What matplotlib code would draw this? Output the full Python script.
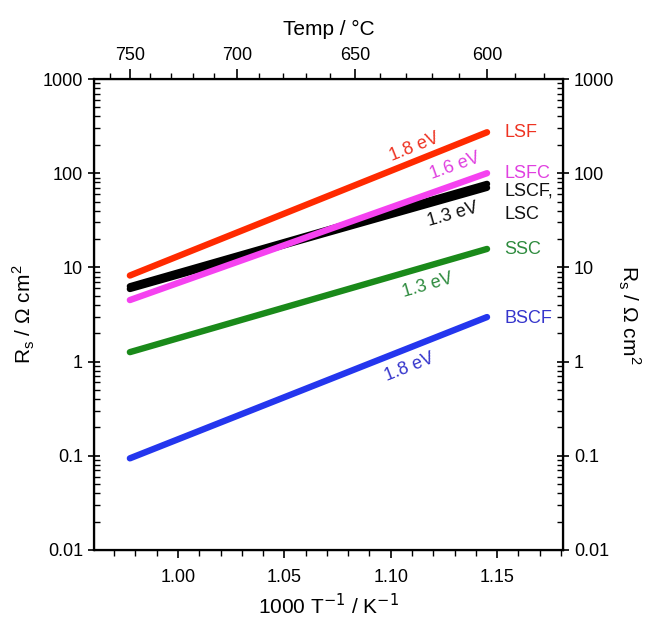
import numpy as np
import matplotlib
matplotlib.use("Agg")
import matplotlib.pyplot as plt
from matplotlib.ticker import FixedLocator, FuncFormatter, LogLocator, MultipleLocator, NullFormatter

plt.rcParams['font.family'] = ['Liberation Sans', 'DejaVu Sans']

# Data: end points (750 °C and 600 °C) of the Arrhenius lines
temps_end = [750, 600]                       # °C
materials = ['LSF', 'LSFC', 'LSCF', 'LSC', 'SSC', 'BSCF']
rs_750 = [8.2, 4.5, 5.9, 6.3, 1.26, 0.094]   # Ω cm² at 750 °C
rs_600 = [272, 100, 70, 77, 15.7, 2.97]      # Ω cm² at 600 °C
line_colors = ['#ff2a00', '#f542f0', '#000000', '#000000', '#1a8a1a', '#2436ee']
draw_order = [0, 2, 3, 1, 4, 5]

name_labels = ['LSF', 'LSFC', 'LSCF,\nLSC', 'SSC', 'BSCF']
name_colors = ['#ee3322', '#e040e0', '#111111', '#2e8b3e', '#3535cc']
name_y = [270, 100, 48, 15.5, 2.9]

ea_labels = ['1.8 eV', '1.6 eV', '1.3 eV', '1.3 eV', '1.8 eV']
ea_colors = ['#ee3322', '#e040e0', '#111111', '#2e8b3e', '#3535cc']
ea_x = [1.111, 1.130, 1.129, 1.1175, 1.109]
ea_y = [190, 118, 36, 6.5, 0.86]
ea_rot = [21.8, 19.5, 15.8, 16.1, 21.5]

top_ticks = [750, 700, 650, 600]
top_minor = list(range(600, 770, 10)) + [590, 580]

x_end = [1000.0 / (t + 273.15) for t in temps_end]

fig = plt.figure(figsize=(6.51, 6.2), dpi=100)
ax = fig.add_axes([94/651, 1 - 550/620, (563-94)/651, (550-79)/620])

for i in draw_order:
    ax.plot(x_end, [rs_750[i], rs_600[i]], color=line_colors[i], lw=4.6,
            solid_capstyle='round', zorder=3)

ax.set_yscale('log')
ax.set_xlim(0.9605, 1.181)
ax.set_ylim(0.01, 1000)

fmt = FuncFormatter(lambda v, p: '%g' % v)
ax.yaxis.set_major_locator(LogLocator(base=10, numticks=20))
ax.yaxis.set_minor_locator(LogLocator(base=10, subs=np.arange(2, 10), numticks=20))
ax.yaxis.set_major_formatter(fmt)
ax.yaxis.set_minor_formatter(NullFormatter())
ax.xaxis.set_major_locator(MultipleLocator(0.05))
ax.xaxis.set_minor_locator(MultipleLocator(0.01))
ax.xaxis.set_major_formatter(FuncFormatter(lambda v, p: '%.2f' % v))

ax.tick_params(axis='y', which='major', direction='inout', length=9, width=1.2, labelsize=13)
ax.tick_params(axis='y', which='minor', direction='in', length=4, width=1.0)
ax.tick_params(axis='x', which='major', direction='out', length=6, width=1.2, labelsize=13, pad=8)
ax.tick_params(axis='x', which='minor', direction='out', length=4, width=1.0)
for s in ax.spines.values():
    s.set_linewidth(1.6)

ax.set_xlabel('1000 T$^{-1}$ / K$^{-1}$', fontsize=15, labelpad=5)
ax.set_ylabel('R$_\\mathregular{s}$ / Ω cm$^\\mathregular{2}$', fontsize=15, labelpad=4)

# right axis
axr = ax.twinx()
axr.set_yscale('log')
axr.set_ylim(ax.get_ylim())
axr.yaxis.set_major_locator(LogLocator(base=10, numticks=20))
axr.yaxis.set_minor_locator(LogLocator(base=10, subs=np.arange(2, 10), numticks=20))
axr.yaxis.set_major_formatter(fmt)
axr.yaxis.set_minor_formatter(NullFormatter())
axr.tick_params(axis='y', which='major', direction='inout', length=9, width=1.2, labelsize=13)
axr.tick_params(axis='y', which='minor', direction='in', length=4, width=1.0)
axr.set_ylabel('R$_\\mathregular{s}$ / Ω cm$^\\mathregular{2}$', fontsize=15, rotation=270, labelpad=20)

# top axis
axt = ax.twiny()
axt.set_xlim(ax.get_xlim())
axt.xaxis.set_major_locator(FixedLocator([1000.0 / (t + 273.15) for t in top_ticks]))
axt.xaxis.set_minor_locator(FixedLocator([1000.0 / (t + 273.15) for t in top_minor]))
axt.set_xticklabels([str(t) for t in top_ticks])
axt.tick_params(axis='x', which='major', direction='out', length=7, width=1.2, labelsize=13)
axt.tick_params(axis='x', which='minor', direction='out', length=4, width=1.0)
axt.set_xlabel('Temp / °C', fontsize=15, labelpad=9)

for lab, c, y in zip(name_labels, name_colors, name_y):
    ax.text(1.1535, y, lab, color=c, fontsize=13, va='center', ha='left',
            linespacing=1.5, zorder=5)

for lab, c, x, y, r in zip(ea_labels, ea_colors, ea_x, ea_y, ea_rot):
    ax.text(x, y, lab, color=c, fontsize=13, va='center', ha='center',
            rotation=r, rotation_mode='anchor', zorder=5)

fig.savefig('out.png', dpi=100)
